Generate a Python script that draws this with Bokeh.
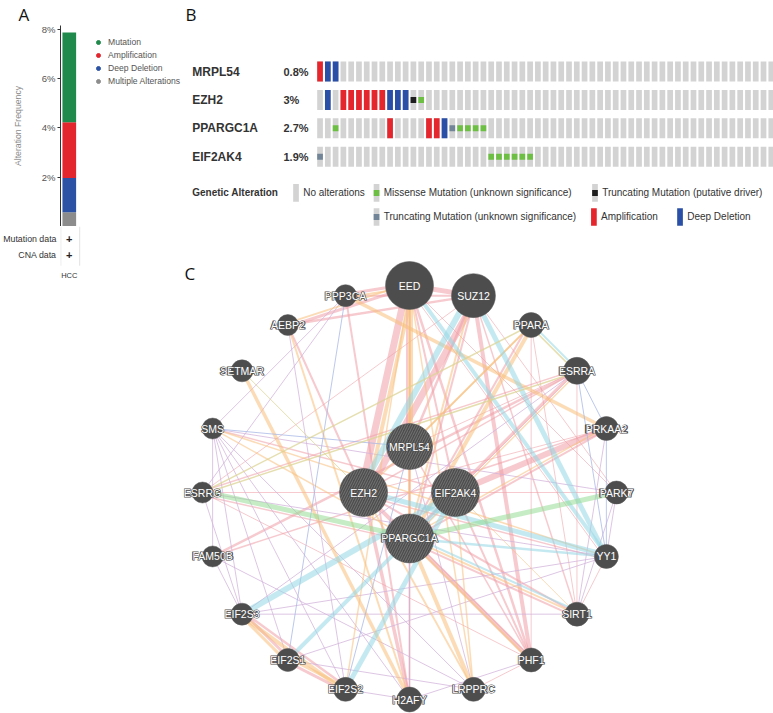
import numpy as np
from bokeh.plotting import figure
from bokeh.layouts import row, column
from bokeh.models import (Range1d, FixedTicker, PrintfTickFormatter, Legend, LegendItem,
                          ColumnDataSource)
from bokeh.core.properties import value
from bokeh.embed import file_html
from bokeh.resources import INLINE

FONT = "Liberation Sans"
LETTER_FONT = "Open Sans"

# ---------------- Panel A data ----------------
freq_categories = ["Multiple Alterations", "Deep Deletion", "Amplification", "Mutation"]  # bottom -> top
freq_values = [0.58, 1.39, 2.26, 3.65]  # percent
freq_colors = ["#8c8c8c", "#2b52a5", "#e3262e", "#1f8a4b"]
freq_legend_order = ["Mutation", "Amplification", "Deep Deletion", "Multiple Alterations"]
study_label = "HCC"
data_types = ["Mutation data", "CNA data"]
freq_ticks = [2, 4, 6, 8]

# ---------------- Panel B data ----------------
genes = ["MRPL54", "EZH2", "PPARGC1A", "EIF2AK4"]
gene_pct = ["0.8%", "3%", "2.7%", "1.9%"]
n_samples_shown = 59
amp_samples = {"MRPL54": [0], "EZH2": [3, 4, 5, 6, 7, 8], "PPARGC1A": [9, 14, 15], "EIF2AK4": []}
homdel_samples = {"MRPL54": [1, 2], "EZH2": [1, 9, 10, 11], "PPARGC1A": [16], "EIF2AK4": []}
missense_samples = {"MRPL54": [], "EZH2": [13], "PPARGC1A": [2, 18, 19, 20, 21],
                    "EIF2AK4": [22, 23, 24, 25, 26, 27]}
trunc_driver_samples = {"MRPL54": [], "EZH2": [12], "PPARGC1A": [], "EIF2AK4": []}
trunc_vus_samples = {"MRPL54": [], "EZH2": [], "PPARGC1A": [17], "EIF2AK4": [0]}

# ---------------- Panel C data ----------------
outer_genes = ["EED", "SUZ12", "PPARA", "ESRRA", "PRKAA2", "PARK7", "YY1", "SIRT1", "PHF1",
               "LRPPRC", "H2AFY", "EIF2S2", "EIF2S1", "EIF2S3", "FAM50B", "ESRRG", "SMS",
               "SETMAR", "AEBP2", "PPP3CA"]
outer_scores = [24, 22, 12.5, 13.5, 12, 11.5, 12, 12, 12, 12, 12.5, 12, 11.5, 11, 10.5, 10.5,
                10.5, 11, 10.5, 11]
query_genes = ["MRPL54", "EIF2AK4", "PPARGC1A", "EZH2"]
query_scores = [23, 24, 24.5, 24]

edge_types = ["Physical Interactions", "Co-expression", "Predicted", "Co-localization",
              "Pathway", "Genetic Interactions", "Shared protein domains"]
edge_colors = ["#ef9ea6", "#d2b3db", "#f7c07c", "#a5b6e6", "#95d7e3", "#95dc95", "#dcd494"]

edges = [
    # Physical interactions
    ("EED", "EZH2", 0, 7), ("EED", "SUZ12", 0, 5), ("SUZ12", "EZH2", 0, 7),
    ("EED", "AEBP2", 0, 3), ("SUZ12", "AEBP2", 0, 2.5), ("AEBP2", "EZH2", 0, 2),
    ("EED", "PPP3CA", 0, 3), ("SUZ12", "PPP3CA", 0, 2), ("EED", "MRPL54", 0, 2),
    ("SUZ12", "MRPL54", 0, 2.5), ("EED", "PHF1", 0, 2.5), ("SUZ12", "PHF1", 0, 4),
    ("EZH2", "PHF1", 0, 4), ("EZH2", "H2AFY", 0, 3.5), ("PPP3CA", "H2AFY", 0, 2),
    ("EED", "H2AFY", 0, 1.5), ("EZH2", "SIRT1", 0, 2), ("SUZ12", "SIRT1", 0, 1.5),
    ("EED", "EIF2AK4", 0, 2), ("SUZ12", "PPARGC1A", 0, 2), ("EIF2AK4", "PRKAA2", 0, 6),
    ("PPARGC1A", "PRKAA2", 0, 2), ("PPARGC1A", "ESRRA", 0, 3), ("ESRRA", "ESRRG", 0, 1.5),
    ("ESRRG", "SUZ12", 0, 1), ("FAM50B", "ESRRA", 0, 2.5), ("FAM50B", "PRKAA2", 0, 1.5),
    ("ESRRG", "PHF1", 0, 1), ("ESRRG", "PPARGC1A", 0, 1.5), ("PPARA", "PHF1", 0, 1),
    ("PPARA", "SIRT1", 0, 1), ("PPARA", "PPARGC1A", 0, 2), ("ESRRA", "SIRT1", 0, 1),
    ("YY1", "SIRT1", 0, 1), ("EED", "PARK7", 0, 1), ("SUZ12", "PARK7", 0, 1),
    ("PPARGC1A", "SIRT1", 0, 2), ("PHF1", "LRPPRC", 0, 1), ("SMS", "EIF2AK4", 0, 1.5),
    ("YY1", "EZH2", 0, 1.5), ("EIF2S1", "EIF2S2", 0, 3), ("EIF2S3", "EIF2S1", 0, 3),
    ("EIF2S3", "EIF2S2", 0, 2.5), ("EED", "YY1", 0, 1), ("PHF1", "PPARGC1A", 0, 1.5),
    ("EIF2AK4", "ESRRA", 0, 1), ("EIF2AK4", "PARK7", 0, 1), ("EIF2AK4", "PHF1", 0, 2),
    ("MRPL54", "ESRRA", 0, 1), ("MRPL54", "H2AFY", 0, 1.5), ("MRPL54", "PHF1", 0, 1.5),
    ("EZH2", "ESRRA", 0, 1.5), ("EZH2", "PRKAA2", 0, 1), ("ESRRG", "EIF2AK4", 0, 1),
    # Co-expression
    ("SMS", "EIF2S3", 1, 1), ("SMS", "EIF2S1", 1, 1), ("SMS", "EIF2S2", 1, 1),
    ("SMS", "FAM50B", 1, 1), ("SMS", "H2AFY", 1, 1), ("FAM50B", "EIF2S3", 1, 1),
    ("ESRRG", "EIF2S3", 1, 1), ("EIF2S3", "SIRT1", 1, 1), ("EIF2S1", "LRPPRC", 1, 1),
    ("H2AFY", "EIF2S2", 1, 1), ("PARK7", "YY1", 1, 1), ("PARK7", "SIRT1", 1, 1),
    ("SIRT1", "PRKAA2", 1, 1), ("PPP3CA", "ESRRG", 1, 1), ("PPP3CA", "SMS", 1, 1),
    ("H2AFY", "PPARGC1A", 1, 1), ("LRPPRC", "SMS", 1, 1), ("EIF2S3", "YY1", 1, 1),
    ("ESRRG", "YY1", 1, 1), ("MRPL54", "LRPPRC", 1, 1), ("PHF1", "H2AFY", 1, 1),
    ("SMS", "PARK7", 1, 1), ("FAM50B", "LRPPRC", 1, 1), ("EIF2S1", "YY1", 1, 1),
    ("AEBP2", "EIF2S2", 1, 1), ("ESRRA", "EIF2S3", 1, 1),
    # Predicted
    ("EED", "EZH2", 2, 4), ("EED", "MRPL54", 2, 4), ("EED", "PPARGC1A", 2, 3),
    ("EED", "PPP3CA", 2, 2), ("AEBP2", "EED", 2, 2), ("PPP3CA", "PRKAA2", 2, 3.5),
    ("SETMAR", "H2AFY", 2, 3.5), ("AEBP2", "H2AFY", 2, 2), ("PPARA", "PPARGC1A", 2, 4),
    ("PPARGC1A", "LRPPRC", 2, 4), ("PPARGC1A", "PHF1", 2, 2.5), ("PPARGC1A", "SIRT1", 2, 2),
    ("EIF2S3", "EIF2S2", 2, 4), ("EIF2S3", "EIF2S1", 2, 3), ("EIF2S1", "EIF2S2", 2, 3),
    ("EIF2S2", "EED", 2, 1.5), ("EED", "LRPPRC", 2, 1.5), ("SUZ12", "PPARGC1A", 2, 2),
    ("SMS", "YY1", 2, 1.5), ("PRKAA2", "PPARGC1A", 2, 1.5), ("ESRRA", "PPARGC1A", 2, 1.5),
    ("PPARGC1A", "SMS", 2, 1.5), ("EIF2AK4", "SIRT1", 2, 1), ("EIF2AK4", "LRPPRC", 2, 1.5),
    ("MRPL54", "PPARA", 2, 2), ("EZH2", "PPARA", 2, 1.5), ("EZH2", "LRPPRC", 2, 2),
    # Co-localization
    ("EIF2S1", "PPP3CA", 3, 1), ("EIF2S2", "MRPL54", 3, 1), ("ESRRA", "PRKAA2", 3, 1),
    ("ESRRA", "YY1", 3, 1), ("PRKAA2", "YY1", 3, 1), ("SMS", "MRPL54", 3, 1),
    # Pathway
    ("SUZ12", "EZH2", 4, 6), ("SUZ12", "YY1", 4, 5), ("EED", "YY1", 4, 4), ("EZH2", "YY1", 4, 5),
    ("EIF2S3", "EIF2AK4", 4, 6), ("EIF2S1", "EIF2AK4", 4, 4), ("EIF2S2", "EIF2AK4", 4, 5),
    ("PPARGC1A", "YY1", 4, 2.5), ("PPARGC1A", "SIRT1", 4, 2), ("PPARA", "ESRRA", 4, 2),
    # Genetic interactions
    ("ESRRG", "PPARGC1A", 5, 5), ("PARK7", "PPARGC1A", 5, 5),
    # Shared protein domains
    ("ESRRG", "ESRRA", 6, 1.5), ("ESRRG", "PPARA", 6, 1.5), ("PPARA", "ESRRA", 6, 1.5),
    ("SETMAR", "EZH2", 6, 1),
]

# =============== Panel A (bar) ===============
PX_PER_X = 14.0
XR_A = (-9 / PX_PER_X, 117 / PX_PER_X)
pA = figure(width=183, height=226, x_range=Range1d(*XR_A),
            y_range=Range1d(0, 8.16), output_backend="svg", toolbar_location=None,
            x_axis_location=None, min_border_left=57, min_border_right=0, min_border_top=0,
            min_border_bottom=0)
pA.title.text = "A"
pA.title.text_font = LETTER_FONT
pA.title.text_font_size = "17px"
pA.title.text_font_style = "normal"
pA.title.text_color = "#111111"
pA.title.align = "left"
pA.title.offset = -42
pA.title.standoff = 0
pA.outline_line_color = None
pA.xgrid.visible = False
pA.ygrid.visible = False
bottoms = np.concatenate([[0], np.cumsum(freq_values)[:-1]])
tops = np.cumsum(freq_values)
pA.vbar(x=[0] * len(freq_values), width=1, bottom=bottoms, top=tops, fill_color=freq_colors,
        line_color=None)
ya = pA.yaxis[0]
ya.ticker = FixedTicker(ticks=freq_ticks)
ya.formatter = PrintfTickFormatter(format="%d%%")
ya.axis_label = "Alteration Frequency"
ya.axis_label_text_font = FONT
ya.axis_label_text_font_style = "normal"
ya.axis_label_text_font_size = "8.7px"
ya.axis_label_text_color = "#8a8a8a"
ya.axis_label_standoff = 16
ya.major_label_text_font = FONT
ya.major_label_text_font_size = "9.5px"
ya.major_label_text_color = "#555555"
ya.major_label_standoff = 2
ya.axis_line_color = "#333333"
ya.major_tick_line_color = "#333333"
ya.major_tick_out = 3
ya.major_tick_in = 0
ya.minor_tick_line_color = None

items = []
for name in freq_legend_order:
    c = freq_colors[freq_categories.index(name)]
    r = pA.scatter(x=[np.nan], y=[np.nan], marker="circle", size=5, fill_color=c, line_color=c)
    items.append(LegendItem(label=name, renderers=[r]))
legA = Legend(items=items, location=(33, 140), glyph_width=10, glyph_height=10,
              label_height=10, spacing=3, padding=0, margin=0, border_line_color=None,
              background_fill_alpha=0, label_text_font=FONT, label_text_font_size="8.6px",
              label_text_color="#555555", label_standoff=5)
pA.add_layout(legA)

# =============== Panel A (data-type table below the bar) ===============
ROW_PX = 16.0
row_y = [-0.75 - i for i in range(len(data_types))]
pA2 = figure(width=183, height=487, x_range=Range1d(*XR_A),
             y_range=Range1d(-487 / ROW_PX, 0), output_backend="svg", toolbar_location=None,
             x_axis_location=None, min_border_left=57, min_border_right=0,
             min_border_top=0, min_border_bottom=0)
pA2.outline_line_color = None
pA2.xgrid.visible = False
pA2.ygrid.visible = False
yb = pA2.yaxis[0]
yb.ticker = FixedTicker(ticks=row_y)
yb.major_label_overrides = {t: lab for t, lab in zip(row_y, data_types)}
yb.axis_line_color = None
yb.major_tick_line_color = None
yb.minor_tick_line_color = None
yb.major_tick_out = 0
yb.major_tick_in = 0
yb.major_label_standoff = 4
yb.major_label_text_font = FONT
yb.major_label_text_font_size = "8.8px"
yb.major_label_text_color = "#333333"
pA2.text(x=[0] * len(data_types), y=row_y, text=["+"] * len(data_types), text_font=value(FONT),
         text_font_size="11px", text_font_style="bold", text_color="#222222",
         text_align="center", text_baseline="middle")
pA2.text(x=[0], y=[-3.06], text=[study_label], text_font=value(FONT), text_font_size="7.5px",
         text_color="#333333", text_align="center", text_baseline="middle")
pA2.segment(x0=[-0.62, 0.76], y0=[0, 0], x1=[-0.62, 0.76], y1=[-2.45, -2.45],
            line_color="#e3e3e3", line_width=1)

# =============== Panel B ===============
C0, CW = 319.55, 7.78
R0, RH = 71.0, 28.43
pB = figure(width=590, height=255, x_range=Range1d((183 - C0) / CW, (773 - C0) / CW),
            y_range=Range1d((255 - R0) / RH, (0 - R0) / RH),
            output_backend="svg", toolbar_location=None, x_axis_location=None,
            y_axis_location=None, min_border=0)
pB.outline_line_color = None
pB.xgrid.visible = False
pB.ygrid.visible = False

CELL_W, CELL_H, MUT_H = 0.733, 0.703, 0.21
GRAY, AMP_C, DEL_C = "#d3d3d3", "#e5262d", "#2a4fa6"
MIS_C, TDRV_C, TVUS_C = "#6cbf43", "#1e1e1e", "#718498"

gx, gy = [], []
for r, g in enumerate(genes):
    for s in range(n_samples_shown):
        gx.append(s)
        gy.append(r)
pB.rect(x=gx, y=gy, width=CELL_W, height=CELL_H, fill_color=GRAY, line_color=None)


def collect(d):
    xs, ys = [], []
    for r, g in enumerate(genes):
        for s in d.get(g, []):
            xs.append(s)
            ys.append(r)
    return xs, ys


for d, c, h in [(amp_samples, AMP_C, CELL_H), (homdel_samples, DEL_C, CELL_H),
                (missense_samples, MIS_C, MUT_H), (trunc_driver_samples, TDRV_C, MUT_H),
                (trunc_vus_samples, TVUS_C, MUT_H)]:
    xs, ys = collect(d)
    if xs:
        pB.rect(x=xs, y=ys, width=CELL_W, height=h, fill_color=c, line_color=None)

rows_idx = list(range(len(genes)))
pB.text(x=[-16.43] * len(genes), y=rows_idx, text=genes, text_font=value(FONT),
        text_font_size="12px", text_font_style="bold", text_color="#333333",
        text_align="left", text_baseline="middle")
pB.text(x=[-4.7] * len(genes), y=rows_idx, text=gene_pct, text_font=value(FONT),
        text_font_size="11px", text_font_style="bold", text_color="#333333",
        text_align="left", text_baseline="middle")

L1, L2 = 4.27, 5.12
pB.text(x=[-16.43], y=[L1 - 0.03], text=["Genetic Alteration"], text_font=value(FONT),
        text_font_size="10px", text_font_style="bold", text_color="#333333",
        text_align="left", text_baseline="middle")
leg_entries = [
    ("No alterations", -3.09, L1, None),
    ("Missense Mutation (unknown significance)", 7.26, L1, MIS_C),
    ("Truncating Mutation (putative driver)", 35.34, L1, TDRV_C),
    ("Truncating Mutation (unknown significance)", 7.26, L2, TVUS_C),
    ("Amplification", 35.2, L2, AMP_C),
    ("Deep Deletion", 46.27, L2, DEL_C),
]
SW_H = 0.62
for lab, lx, ly, c in leg_entries:
    if c in (AMP_C, DEL_C):
        pB.rect(x=[lx], y=[ly], width=CELL_W, height=SW_H, fill_color=c, line_color=None)
    else:
        pB.rect(x=[lx], y=[ly], width=CELL_W, height=SW_H, fill_color=GRAY, line_color=None)
        if c is not None:
            pB.rect(x=[lx], y=[ly], width=CELL_W, height=MUT_H, fill_color=c, line_color=None)
    pB.text(x=[lx + 0.92], y=[ly - 0.03], text=[lab], text_font=value(FONT),
            text_font_size="10px", text_color="#333333", text_align="left",
            text_baseline="middle")
pB.text(x=[-17.3], y=[(14 - R0) / RH], text=["B"], text_font=value(LETTER_FONT),
        text_font_size="17px", text_color="#111111", text_align="left", text_baseline="middle")

# =============== Panel C ===============
CX, CY, S = 409.0, 492.0, 207.0
pC = figure(width=590, height=458, x_range=Range1d((183 - CX) / S, (773 - CX) / S),
            y_range=Range1d((CY - 713) / S, (CY - 255) / S),
            output_backend="svg", toolbar_location=None, x_axis_location=None,
            y_axis_location=None, min_border=0)
pC.outline_line_color = None
pC.xgrid.visible = False
pC.ygrid.visible = False

R_OUT, R_IN = 1.0, 0.222
pos = {}
n_out = len(outer_genes)
for k, g in enumerate(outer_genes):
    t = 2 * np.pi * k / n_out
    pos[g] = (R_OUT * np.sin(t), R_OUT * np.cos(t))
for k, g in enumerate(query_genes):
    t = 2 * np.pi * k / len(query_genes)
    pos[g] = (R_IN * np.sin(t), R_IN * np.cos(t))

# parallel offsets for node pairs linked by several network types
pair_groups = {}
for i, (a, b, t, w) in enumerate(edges):
    key = tuple(sorted((a, b)))
    pair_groups.setdefault(key, []).append(i)
offsets = [0.0] * len(edges)
for key, idxs in pair_groups.items():
    idxs = sorted(idxs, key=lambda i: edges[i][2])
    total = sum(edges[i][3] for i in idxs) + 1.0 * (len(idxs) - 1)
    cur = -total / 2
    for i in idxs:
        w = edges[i][3]
        offsets[i] = (cur + w / 2) / S
        cur += w + 1.0

for ti, tname in enumerate(edge_types):
    sel = [i for i, e in enumerate(edges) if e[2] == ti]
    if not sel:
        continue
    xs, ys, ws = [], [], []
    for i in sel:
        a, b, _, w = edges[i]
        ka, kb = sorted((a, b))
        (x0, y0), (x1, y1) = pos[ka], pos[kb]
        dx, dy = x1 - x0, y1 - y0
        L = np.hypot(dx, dy)
        nx, ny = -dy / L, dx / L
        o = offsets[i]
        xs.append([x0 + nx * o, x1 + nx * o])
        ys.append([y0 + ny * o, y1 + ny * o])
        ws.append(w)
    src = ColumnDataSource(dict(xs=xs, ys=ys, w=ws))
    pC.multi_line(xs="xs", ys="ys", line_width="w", line_color=edge_colors[ti],
                  line_alpha=0.55 if ti in (0, 2, 4, 5) else 0.75, source=src)

ox = [pos[g][0] for g in outer_genes]
oy = [pos[g][1] for g in outer_genes]
pC.scatter(x=ox, y=oy, size=[2 * s for s in outer_scores], marker="circle",
           fill_color="#4d4d4d", line_color="#5a5a5a", line_width=0.5)
qx = [pos[g][0] for g in query_genes]
qy = [pos[g][1] for g in query_genes]
pC.scatter(x=qx, y=qy, size=[2 * s for s in query_scores], marker="circle",
           fill_color="#4d4d4d", line_color="#5a5a5a", line_width=0.5,
           hatch_pattern="/", hatch_color="#7d7d7d", hatch_scale=5, hatch_weight=0.8)

all_genes = outer_genes + query_genes
lx = [pos[g][0] for g in all_genes]
ly = [pos[g][1] for g in all_genes]
# halo layer, then white label
pC.text(x=lx, y=ly, text=all_genes, text_font=value(FONT), text_font_size="10.5px",
        text_font_style="bold", text_color="#505050", text_outline_color="#505050",
        text_align="center", text_baseline="middle")
pC.text(x=lx, y=ly, text=all_genes, text_font=value(FONT), text_font_size="10.5px",
        text_color="#ffffff", text_align="center", text_baseline="middle")
pC.text(x=[(184 - CX) / S], y=[(CY - 272.5) / S], text=["C"], text_font=value(LETTER_FONT),
        text_font_size="17px", text_color="#111111", text_align="left", text_baseline="middle")

layout = row(column(pA, pA2, spacing=0), column(pB, pC, spacing=0), spacing=0)
open("out.html", "w").write(file_html(layout, INLINE))
